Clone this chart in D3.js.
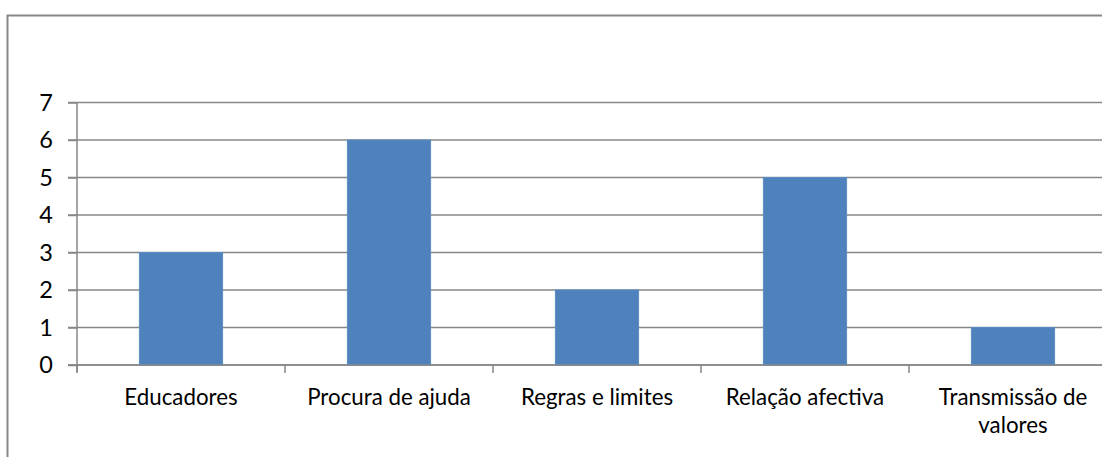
<!DOCTYPE html>
<html>
<head>
<meta charset="utf-8">
<script src="https://cdn.jsdelivr.net/npm/d3@7"></script>
<style>
  html, body { margin: 0; padding: 0; background: #fff; }
  svg { display: block; }
  text { font-family: Lato, "Open Sans", sans-serif; fill: #000; }
</style>
</head>
<body>
<svg id="chart" width="1102" height="457"></svg>
<script>
// Chart data
const categories = ["Educadores", "Procura de ajuda", "Regras e limites", "Relação afectiva", "Transmissão de valores"];
const values = [3, 6, 2, 5, 1];
const yTicks = [0, 1, 2, 3, 4, 5, 6, 7];

const svg = d3.select("#chart");
const gray = "#878787";
const barColor = "#4F81BD";

// Chart area frame (extends past the visible window on right/bottom)
svg.append("rect")
  .attr("x", 7.5).attr("y", 15.5)
  .attr("width", 1200).attr("height", 600)
  .attr("fill", "#fff")
  .attr("stroke", gray).attr("stroke-width", 2);

// Plot area geometry
const plot = { left: 77, right: 1117, top: 102.5, bottom: 365 };

const y = d3.scaleLinear().domain([0, 7]).range([plot.bottom, plot.top]);

// Bars: gap width 150% of bar width
const x = d3.scaleBand()
  .domain(categories)
  .range([plot.left, plot.right])
  .paddingInner(0.6)
  .paddingOuter(0.3);

// Category slots, used for boundary tick marks
const slots = d3.scaleBand().domain(categories).range([plot.left, plot.right]).padding(0);

// Horizontal gridlines with outward tick marks
const yAxis = d3.axisLeft(y)
  .tickValues(yTicks)
  .tickFormat(d3.format("d"))
  .tickSize(9)
  .tickPadding(15);

svg.append("g")
  .attr("class", "grid")
  .selectAll("line")
  .data(yTicks)
  .join("line")
  .attr("x1", plot.left - 9)
  .attr("x2", plot.right)
  .attr("y1", d => y(d))
  .attr("y2", d => y(d))
  .attr("stroke", gray)
  .attr("stroke-width", 1.5);

const gy = svg.append("g")
  .attr("transform", `translate(${plot.left},0)`)
  .call(yAxis);
gy.select(".domain").remove();
gy.selectAll(".tick line").attr("stroke", gray).attr("stroke-width", 1.5);
gy.selectAll(".tick text")
  .attr("font-size", 23.5)
  .attr("font-family", "Lato, 'Open Sans', sans-serif");

// Bars
svg.append("g")
  .selectAll("rect")
  .data(categories.map((c, i) => ({ c, v: values[i] })))
  .join("rect")
  .attr("x", d => x(d.c))
  .attr("y", d => y(d.v))
  .attr("width", x.bandwidth())
  .attr("height", d => y(0) - y(d.v))
  .attr("fill", barColor)
  .attr("stroke", "#5b8bc4")
  .attr("stroke-width", 1);

// Vertical axis line
svg.append("line")
  .attr("x1", plot.left).attr("x2", plot.left)
  .attr("y1", plot.top).attr("y2", plot.bottom + 7)
  .attr("stroke", gray).attr("stroke-width", 1.5);

// Horizontal axis line
svg.append("line")
  .attr("x1", plot.left - 9).attr("x2", plot.right)
  .attr("y1", plot.bottom).attr("y2", plot.bottom)
  .attr("stroke", gray).attr("stroke-width", 1.5);

// Category boundary ticks
const bounds = categories.map(c => slots(c)).concat([plot.right]);
svg.append("g")
  .selectAll("line")
  .data(bounds)
  .join("line")
  .attr("x1", d => d).attr("x2", d => d)
  .attr("y1", plot.bottom).attr("y2", plot.bottom + 8)
  .attr("stroke", gray).attr("stroke-width", 1.5);

// Category labels, wrapped to fit the slot width
const labelFont = 22.3;
const lineHeight = 28;
const labels = svg.append("g")
  .selectAll("text")
  .data(categories)
  .join("text")
  .attr("text-anchor", "middle")
  .attr("font-size", labelFont)
  .attr("x", d => x(d) + x.bandwidth() / 2)
  .attr("y", 405);

labels.each(function (d) {
  const t = d3.select(this);
  const cx = x(d) + x.bandwidth() / 2;
  const maxW = slots.bandwidth() - 20;
  const words = d.split(" ");
  let line = [];
  let tspan = t.append("tspan").attr("x", cx).attr("dy", 0);
  words.forEach(w => {
    line.push(w);
    tspan.text(line.join(" "));
    if (tspan.node().getComputedTextLength() > maxW && line.length > 1) {
      line.pop();
      tspan.text(line.join(" "));
      line = [w];
      tspan = t.append("tspan").attr("x", cx).attr("dy", lineHeight).text(w);
    }
  });
});
</script>
</body>
</html>
